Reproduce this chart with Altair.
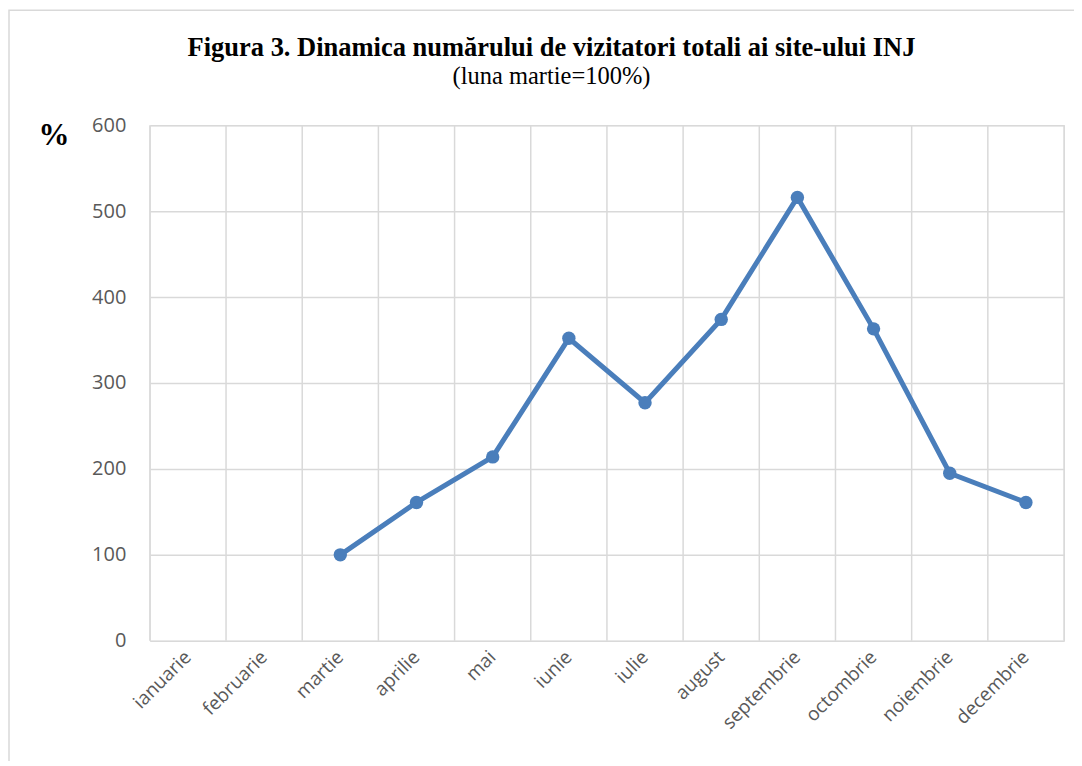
import altair as alt
import pandas as pd

months = ["ianuarie", "februarie", "martie", "aprilie", "mai", "iunie", "iulie",
          "august", "septembrie", "octombrie", "noiembrie", "decembrie"]
values = [None, None, 100, 161, 214, 352, 277, 374, 516, 363, 195, 161]

df = pd.DataFrame({"luna": months, "valoare": values})
dline = df.dropna()
one = pd.DataFrame({"k": [0]})

W, H = 915, 516
PADL, PADT = 142, 117

xscale = alt.Scale(domain=months, paddingInner=0, paddingOuter=0)
x = alt.X("luna:N", sort=months, scale=xscale,
          axis=alt.Axis(title=None, labelAngle=-45, labelAlign="right", labelBaseline="middle",
                        labelFont="Open Sans", labelFontSize=19, labelColor="#595959",
                        labelPadding=13, ticks=False, domain=False, grid=False))
y = alt.Y("valoare:Q", scale=alt.Scale(domain=[0, 600], nice=False),
          axis=alt.Axis(title=None, values=[0, 100, 200, 300, 400, 500, 600],
                        labelFont="Open Sans", labelFontSize=20, labelColor="#595959",
                        labelPadding=24, ticks=False, domain=False,
                        gridColor="#d9d9d9", gridWidth=1.5))

base = alt.Chart(dline)

line = base.mark_line(color="#4a7ebb", strokeWidth=5).encode(x=x, y=y)
pts = base.mark_circle(color="#4a7ebb", size=180, opacity=1).encode(x=x, y=y)

# vertical band boundaries
vgrid = alt.Chart(df).mark_rule(color="#d9d9d9", strokeWidth=1.5).encode(
    x=alt.X("luna:N", sort=months, scale=xscale, bandPosition=0),
    y=alt.value(0), y2=alt.value(H))
vright = alt.Chart(one).mark_rule(color="#d9d9d9", strokeWidth=1.5).encode(
    x=alt.value(W), y=alt.value(0), y2=alt.value(H))

border = alt.Chart(one).mark_rect(fill=None, stroke="#d9d9d9", strokeWidth=1.5, clip=False).encode(
    x=alt.value(-141), x2=alt.value(2000), y=alt.value(-115), y2=alt.value(2000))

title_txt = alt.Chart(one).mark_text(
    text="Figura 3. Dinamica numărului de vizitatori totali ai site-ului INJ",
    font="Liberation Serif", fontWeight="bold", fontSize=26.5, color="#000000",
    align="center", baseline="alphabetic").encode(x=alt.value(402), y=alt.value(-69))
sub_txt = alt.Chart(one).mark_text(
    text="(luna martie=100%)", font="Liberation Serif", fontSize=24.5, color="#000000",
    align="center", baseline="alphabetic").encode(x=alt.value(402), y=alt.value(-41))
pct = alt.Chart(one).mark_text(
    text="%", font="Liberation Serif", fontWeight="bold", fontSize=31, color="#000000",
    align="center", baseline="alphabetic").encode(x=alt.value(-96), y=alt.value(20))

chart = alt.layer(border, vgrid, vright, line, pts, title_txt, sub_txt, pct).properties(
    width=W, height=H,
    autosize=alt.AutoSizeParams(type="none"),
    padding={"left": PADL, "top": PADT, "right": 10, "bottom": 120},
).configure_view(stroke=None).configure(background="white")

chart.save("out.html", embed_options={"renderer": "svg", "actions": False})
